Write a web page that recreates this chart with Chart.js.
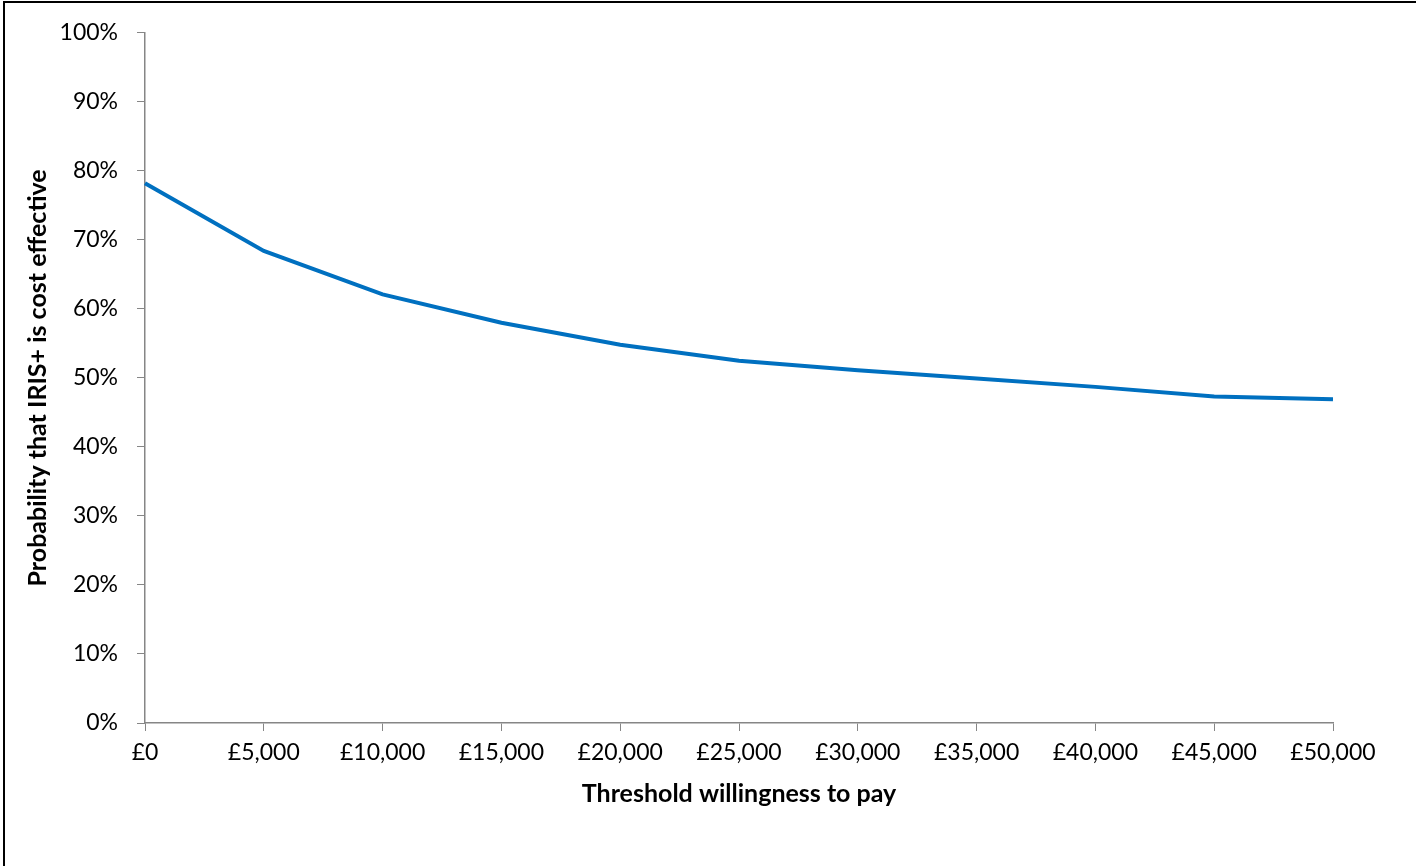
<!DOCTYPE html>
<html>
<head>
    <meta charset="utf-8"/>
    <title>Cost effectiveness acceptability curve</title>
    <script src="https://cdn.jsdelivr.net/npm/chart.js"></script>
    <style>
        body {
            margin: 0;
            background-color: #ffffff;
        }

        .wrap {
            position: relative;
            width: 1416px;
            height: 866px;
        }

        /* frame like the original export (top and left edge only) */
        .frame {
            position: absolute;
            left: 3px;
            top: 1px;
            right: 0;
            bottom: 0;
            border-top: 2px solid #000;
            border-left: 2px solid #000;
            pointer-events: none;
        }
    </style>
</head>
<body>
    <div class="wrap">
        <canvas id="ceacChart" width="1416" height="866"></canvas>
        <div class="frame"></div>
    </div>

    <script>
        // Data
        const thresholds = ['£0', '£5,000', '£10,000', '£15,000', '£20,000', '£25,000',
                            '£30,000', '£35,000', '£40,000', '£45,000', '£50,000'];
        const probCostEffective = [78.2, 68.4, 62.1, 58.0, 54.8, 52.5, 51.1, 49.9, 48.7, 47.3, 46.9];

        const axisGrey = '#868686';
        const fontName = 'Lato, "Open Sans", sans-serif';

        const ctx = document.getElementById('ceacChart').getContext('2d');
        new Chart(ctx, {
            type: 'line',
            data: {
                labels: thresholds,
                datasets: [{
                    label: 'IRIS+',
                    data: probCostEffective,
                    borderColor: '#0070C0',
                    borderWidth: 4,
                    pointRadius: 0,
                    tension: 0,
                    fill: false
                }]
            },
            options: {
                responsive: false,
                animation: false,
                layout: {
                    padding: { top: 28, right: 83, bottom: 0, left: 0 }
                },
                plugins: {
                    legend: { display: false },
                    tooltip: { enabled: false }
                },
                scales: {
                    x: {
                        type: 'category',
                        offset: false,
                        grid: {
                            drawOnChartArea: false,
                            drawTicks: true,
                            tickLength: 8,
                            color: axisGrey
                        },
                        border: { color: axisGrey, width: 1.5 },
                        ticks: {
                            color: '#000',
                            padding: 8,
                            maxRotation: 0,
                            autoSkip: false,
                            font: { family: fontName, size: 23 }
                        },
                        title: {
                            display: true,
                            text: 'Threshold willingness to pay',
                            color: '#000',
                            padding: { top: 0, bottom: 57 },
                            font: { family: fontName, size: 25, weight: 'bold' }
                        },
                        afterFit: function (scale) {
                            scale.height = 143;
                        }
                    },
                    y: {
                        min: 0,
                        max: 100,
                        grid: {
                            drawOnChartArea: false,
                            drawTicks: true,
                            tickLength: 8,
                            color: axisGrey
                        },
                        border: { color: axisGrey, width: 1.5 },
                        ticks: {
                            stepSize: 10,
                            color: '#000',
                            padding: 19,
                            font: { family: fontName, size: 23 },
                            callback: function (value) {
                                return value + '%';
                            }
                        },
                        title: {
                            display: true,
                            text: 'Probability that IRIS+ is cost effective',
                            color: '#000',
                            padding: { top: 23, bottom: 0 },
                            font: { family: fontName, size: 25, weight: 'bold' }
                        },
                        afterFit: function (scale) {
                            scale.width = 145;
                        }
                    }
                }
            }
        });
    </script>
</body>
</html>
